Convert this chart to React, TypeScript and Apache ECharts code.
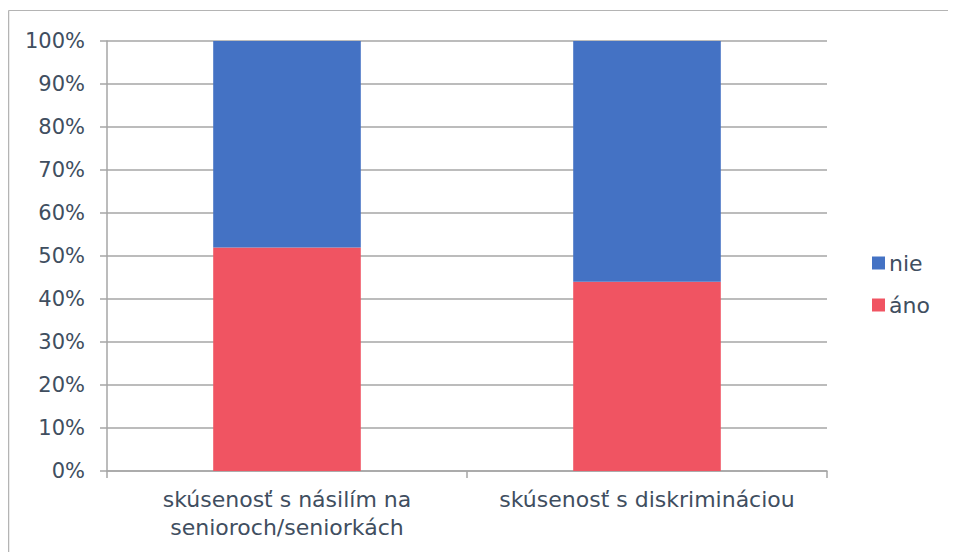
import React, { useEffect, useRef } from "react";
import * as echarts from "echarts";

const categories = ["skúsenosť s násilím na\nsenioroch/seniorkách", "skúsenosť s diskrimináciou"];
const anoValues = [52, 44];
const nieValues = [48, 56];
const legendOrder = ["nie", "áno"];

const TEXT = "#404e5f";
const GRID = "#a6a6a6";
const FONT = "DejaVu Sans";

export default function App() {
  const ref = useRef<HTMLDivElement>(null);
  useEffect(() => {
    if (!ref.current) return;
    const chart = echarts.init(ref.current, undefined, { renderer: "svg" });
    chart.setOption({
      animation: false,
      textStyle: { fontFamily: FONT },
      graphic: [
        { type: "line", shape: { x1: 0.5, y1: 2.5, x2: 948, y2: 2.5 }, style: { stroke: "#b4b4b4", lineWidth: 1 } },
        { type: "line", shape: { x1: 0.5, y1: 2.5, x2: 0.5, y2: 544 }, style: { stroke: "#b4b4b4", lineWidth: 1.5 } },
      ],
      grid: { left: 99, right: 129, top: 33, bottom: 81, containLabel: false },
      legend: {
        data: legendOrder,
        orient: "vertical",
        left: 864,
        top: 244,
        padding: 0,
        itemWidth: 13,
        itemHeight: 13,
        itemGap: 20,
        icon: "rect",
        textStyle: { color: TEXT, fontSize: 22, fontFamily: FONT, padding: [0, 0, 0, -1] },
      },
      xAxis: {
        type: "category",
        data: categories,
        axisLine: { lineStyle: { color: GRID, width: 1.5 } },
        axisTick: { show: true, length: 7, alignWithLabel: false, lineStyle: { color: GRID, width: 1.5 } },
        axisLabel: { color: TEXT, fontSize: 22, lineHeight: 28, margin: 14, fontFamily: FONT, interval: 0, hideOverlap: false },
      },
      yAxis: {
        type: "value",
        min: 0,
        max: 100,
        interval: 10,
        axisLine: { show: true, lineStyle: { color: GRID, width: 1.5 } },
        axisTick: { show: true, length: 7, lineStyle: { color: GRID, width: 1.5 } },
        splitLine: { lineStyle: { color: GRID, width: 1.5 } },
        axisLabel: { color: TEXT, fontSize: 21, margin: 22, formatter: "{value}%", fontFamily: FONT },
      },
      series: [
        {
          name: "áno",
          type: "bar",
          stack: "s",
          data: anoValues,
          barWidth: "41%",
          itemStyle: { color: "#f05462" },
        },
        {
          name: "nie",
          type: "bar",
          stack: "s",
          data: nieValues,
          barWidth: "41%",
          itemStyle: { color: "#4472c4" },
        },
      ],
    });
    return () => chart.dispose();
  }, []);
  return <div ref={ref} style={{ width: 948, height: 544 }} />;
}
